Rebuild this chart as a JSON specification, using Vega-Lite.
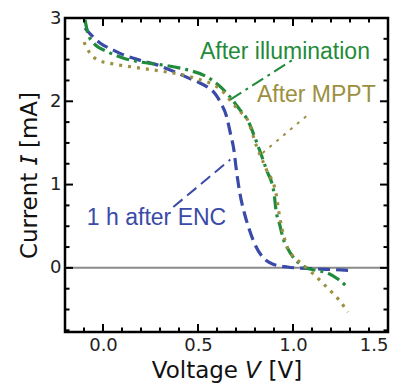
{
  "$schema": "https://vega.github.io/schema/vega-lite/v6.json",
  "width": 323,
  "height": 314,
  "autosize": {"type": "none"},
  "padding": {"left": 65, "top": 18, "right": 16, "bottom": 55},
  "config": {
    "view": {"stroke": "black", "strokeWidth": 2.5},
    "axis": {"domain": false, "grid": false, "labelFont": "DejaVu Sans", "titleFont": "DejaVu Sans", "labelFontSize": 18, "titleFontSize": 23, "labelColor": "#222", "titleColor": "#111", "titleFontWeight": "normal"}
  },
  "datasets": {
    "curves": [
      {"s": "ENC", "V": -0.095, "I": 2.88}, {"s": "ENC", "V": -0.06, "I": 2.79}, {"s": "ENC", "V": -0.016, "I": 2.70}, {"s": "ENC", "V": 0.05, "I": 2.62}, {"s": "ENC", "V": 0.105, "I": 2.56}, {"s": "ENC", "V": 0.2, "I": 2.49}, {"s": "ENC", "V": 0.28, "I": 2.44}, {"s": "ENC", "V": 0.36, "I": 2.37}, {"s": "ENC", "V": 0.44, "I": 2.29}, {"s": "ENC", "V": 0.5, "I": 2.23}, {"s": "ENC", "V": 0.55, "I": 2.17}, {"s": "ENC", "V": 0.59, "I": 2.09}, {"s": "ENC", "V": 0.62, "I": 1.98}, {"s": "ENC", "V": 0.65, "I": 1.82}, {"s": "ENC", "V": 0.67, "I": 1.62}, {"s": "ENC", "V": 0.69, "I": 1.40}, {"s": "ENC", "V": 0.70, "I": 1.21}, {"s": "ENC", "V": 0.72, "I": 0.9}, {"s": "ENC", "V": 0.745, "I": 0.65}, {"s": "ENC", "V": 0.77, "I": 0.46}, {"s": "ENC", "V": 0.80, "I": 0.28}, {"s": "ENC", "V": 0.84, "I": 0.13}, {"s": "ENC", "V": 0.90, "I": 0.04}, {"s": "ENC", "V": 0.97, "I": 0.01}, {"s": "ENC", "V": 1.1, "I": -0.01}, {"s": "ENC", "V": 1.2, "I": -0.02}, {"s": "ENC", "V": 1.30, "I": -0.03},
      {"s": "Illum", "V": -0.095, "I": 2.98}, {"s": "Illum", "V": -0.08, "I": 2.82}, {"s": "Illum", "V": -0.05, "I": 2.7}, {"s": "Illum", "V": 0.02, "I": 2.6}, {"s": "Illum", "V": 0.105, "I": 2.52}, {"s": "Illum", "V": 0.2, "I": 2.47}, {"s": "Illum", "V": 0.30, "I": 2.44}, {"s": "Illum", "V": 0.44, "I": 2.38}, {"s": "Illum", "V": 0.55, "I": 2.29}, {"s": "Illum", "V": 0.62, "I": 2.17}, {"s": "Illum", "V": 0.68, "I": 2.02}, {"s": "Illum", "V": 0.72, "I": 1.9}, {"s": "Illum", "V": 0.76, "I": 1.78}, {"s": "Illum", "V": 0.81, "I": 1.50}, {"s": "Illum", "V": 0.86, "I": 1.18}, {"s": "Illum", "V": 0.90, "I": 0.9}, {"s": "Illum", "V": 0.91, "I": 0.70}, {"s": "Illum", "V": 0.93, "I": 0.52}, {"s": "Illum", "V": 0.95, "I": 0.34}, {"s": "Illum", "V": 0.975, "I": 0.22}, {"s": "Illum", "V": 1.0, "I": 0.13}, {"s": "Illum", "V": 1.035, "I": 0.05}, {"s": "Illum", "V": 1.07, "I": 0.0}, {"s": "Illum", "V": 1.12, "I": -0.03}, {"s": "Illum", "V": 1.18, "I": -0.06}, {"s": "Illum", "V": 1.24, "I": -0.14}, {"s": "Illum", "V": 1.29, "I": -0.24},
      {"s": "MPPT", "V": -0.1, "I": 2.71}, {"s": "MPPT", "V": -0.07, "I": 2.58}, {"s": "MPPT", "V": -0.03, "I": 2.5}, {"s": "MPPT", "V": 0.05, "I": 2.45}, {"s": "MPPT", "V": 0.16, "I": 2.41}, {"s": "MPPT", "V": 0.34, "I": 2.35}, {"s": "MPPT", "V": 0.45, "I": 2.3}, {"s": "MPPT", "V": 0.51, "I": 2.26}, {"s": "MPPT", "V": 0.57, "I": 2.21}, {"s": "MPPT", "V": 0.62, "I": 2.14}, {"s": "MPPT", "V": 0.68, "I": 1.98}, {"s": "MPPT", "V": 0.72, "I": 1.88}, {"s": "MPPT", "V": 0.76, "I": 1.78}, {"s": "MPPT", "V": 0.81, "I": 1.45}, {"s": "MPPT", "V": 0.86, "I": 1.18}, {"s": "MPPT", "V": 0.91, "I": 0.9}, {"s": "MPPT", "V": 0.93, "I": 0.61}, {"s": "MPPT", "V": 0.97, "I": 0.25}, {"s": "MPPT", "V": 1.0, "I": 0.14}, {"s": "MPPT", "V": 1.04, "I": 0.06}, {"s": "MPPT", "V": 1.11, "I": -0.08}, {"s": "MPPT", "V": 1.19, "I": -0.26}, {"s": "MPPT", "V": 1.24, "I": -0.38}, {"s": "MPPT", "V": 1.29, "I": -0.53}
    ],
    "pointers": [
      {"s": "Illum", "V": 0.67, "I": 2.02}, {"s": "Illum", "V": 1.0, "I": 2.5},
      {"s": "MPPT", "V": 0.84, "I": 1.38}, {"s": "MPPT", "V": 1.09, "I": 1.86},
      {"s": "ENC", "V": 0.37, "I": 0.73}, {"s": "ENC", "V": 0.67, "I": 1.30}
    ],
    "labels": [
      {"s": "Illum", "V": 0.51, "I": 2.59, "t": "After illumination"},
      {"s": "MPPT", "V": 0.81, "I": 2.08, "t": "After MPPT"},
      {"s": "ENC", "V": -0.085, "I": 0.6, "t": "1 h after ENC"}
    ],
    "xticks": [
      {"v": 0, "k": "major"}, {"v": 0.5, "k": "major"}, {"v": 1, "k": "major"},
      {"v": -0.1, "k": "minor"}, {"v": 0.1, "k": "minor"}, {"v": 0.2, "k": "minor"}, {"v": 0.3, "k": "minor"}, {"v": 0.4, "k": "minor"}, {"v": 0.6, "k": "minor"}, {"v": 0.7, "k": "minor"}, {"v": 0.8, "k": "minor"}, {"v": 0.9, "k": "minor"}, {"v": 1.1, "k": "minor"}, {"v": 1.2, "k": "minor"}, {"v": 1.3, "k": "minor"}, {"v": 1.4, "k": "minor"}
    ],
    "yticks": [
      {"v": 0, "k": "major"}, {"v": 1, "k": "major"}, {"v": 2, "k": "major"},
      {"v": -0.75, "k": "minor"}, {"v": -0.5, "k": "minor"}, {"v": -0.25, "k": "minor"}, {"v": 0.25, "k": "minor"}, {"v": 0.5, "k": "minor"}, {"v": 0.75, "k": "minor"}, {"v": 1.25, "k": "minor"}, {"v": 1.5, "k": "minor"}, {"v": 1.75, "k": "minor"}, {"v": 2.25, "k": "minor"}, {"v": 2.5, "k": "minor"}, {"v": 2.75, "k": "minor"}
    ],
    "zero": [{"I": 0}]
  },
  "resolve": {"axis": {"x": "independent", "y": "independent"}},
  "layer": [
    {
      "data": {"name": "zero"},
      "mark": {"type": "rule", "color": "#8a8a8a", "strokeWidth": 2},
      "encoding": {"y": {"field": "I", "type": "quantitative", "scale": {"domain": [-0.77, 3], "nice": false, "zero": false}, "axis": null}}
    },
    {
      "data": {"name": "curves"},
      "mark": {"type": "line", "strokeWidth": 3.2, "interpolate": "monotone"},
      "encoding": {
        "x": {"field": "V", "type": "quantitative", "scale": {"domain": [-0.2, 1.5], "nice": false, "zero": false}, "axis": {"orient": "bottom", "values": [0, 0.5, 1, 1.5], "format": ".1f", "ticks": false, "labelPadding": 4, "title": "Voltage 𝘝 [V]", "titlePadding": 5}},
        "y": {"field": "I", "type": "quantitative", "scale": {"domain": [-0.77, 3], "nice": false, "zero": false}, "axis": {"orient": "left", "values": [0, 1, 2, 3], "ticks": false, "labelPadding": 4, "title": "Current 𝘐 [mA]", "titlePadding": 8}},
        "color": {"field": "s", "type": "nominal", "legend": null, "scale": {"domain": ["ENC", "Illum", "MPPT"], "range": ["#3a4aa8", "#1f8b3b", "#9c9040"]}},
        "strokeDash": {"field": "s", "type": "nominal", "legend": null, "scale": {"domain": ["ENC", "Illum", "MPPT"], "range": [[12, 6], [13, 5, 3, 5], [3, 6]]}},
        "detail": {"field": "s"}
      }
    },
    {
      "data": {"name": "pointers"},
      "mark": {"type": "line", "strokeWidth": 2},
      "encoding": {
        "x": {"field": "V", "type": "quantitative", "axis": null},
        "y": {"field": "I", "type": "quantitative", "axis": null},
        "color": {"field": "s", "type": "nominal", "legend": null},
        "strokeDash": {"field": "s", "type": "nominal", "legend": null},
        "detail": {"field": "s"}
      }
    },
    {
      "data": {"name": "labels"},
      "mark": {"type": "text", "align": "left", "baseline": "middle", "font": "Liberation Sans", "fontSize": 23},
      "encoding": {
        "x": {"field": "V", "type": "quantitative", "axis": null},
        "y": {"field": "I", "type": "quantitative", "axis": null},
        "text": {"field": "t"},
        "color": {"field": "s", "type": "nominal", "legend": null}
      }
    },
    {
      "data": {"name": "xticks"},
      "mark": {"type": "tick", "orient": "vertical", "thickness": 2, "color": "black", "opacity": 1, "clip": true},
      "encoding": {
        "x": {"field": "v", "type": "quantitative", "axis": null},
        "y": {"datum": -0.77, "type": "quantitative", "axis": null},
        "size": {"field": "k", "type": "ordinal", "legend": null, "scale": {"domain": ["minor", "major"], "range": [9, 16]}}
      }
    },
    {
      "data": {"name": "xticks"},
      "mark": {"type": "tick", "orient": "vertical", "thickness": 2, "color": "black", "opacity": 1, "clip": true},
      "encoding": {
        "x": {"field": "v", "type": "quantitative", "axis": null},
        "y": {"datum": 3, "type": "quantitative", "axis": null},
        "size": {"field": "k", "type": "ordinal", "legend": null}
      }
    },
    {
      "data": {"name": "yticks"},
      "mark": {"type": "tick", "orient": "horizontal", "thickness": 2, "color": "black", "opacity": 1, "clip": true},
      "encoding": {
        "y": {"field": "v", "type": "quantitative", "axis": null},
        "x": {"datum": -0.2, "type": "quantitative", "axis": null},
        "size": {"field": "k", "type": "ordinal", "legend": null}
      }
    },
    {
      "data": {"name": "yticks"},
      "mark": {"type": "tick", "orient": "horizontal", "thickness": 2, "color": "black", "opacity": 1, "clip": true},
      "encoding": {
        "y": {"field": "v", "type": "quantitative", "axis": null},
        "x": {"datum": 1.5, "type": "quantitative", "axis": null},
        "size": {"field": "k", "type": "ordinal", "legend": null}
      }
    }
  ]
}
